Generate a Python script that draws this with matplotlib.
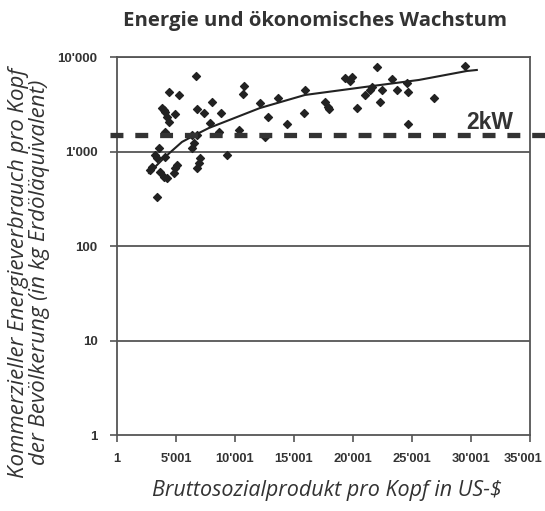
import numpy as np
import matplotlib
matplotlib.use("Agg")
import matplotlib.pyplot as plt
import matplotlib.transforms as mtransforms

# GDP per capita (US-$) and commercial energy use per capita (kg oil equivalent)
gdp = [6691, 4404, 5251, 10757, 10672, 8047, 12112, 3812, 3981, 4066,
       4913, 6776, 7369, 8809, 4235, 4404, 7877, 4066, 6353, 6776,
       8640, 10334, 6522, 6353, 3557, 9317, 3219, 3388, 4066, 7030,
       6946, 6776, 5082, 4913, 4828, 2795, 2965, 3642, 3981, 4235,
       3388,
       22022, 29476, 19312, 19905, 19735, 15924, 13637, 12790, 14399, 15839,
       17618, 17872, 17956, 20328, 21006, 21429, 21599, 22446, 22277, 23293,
       23716, 24563, 24648, 26850, 24648, 12536]
energy = [6295, 4262, 3963, 4932, 4059, 3342, 3261, 2884, 2749, 2618,
          2493, 2818, 2555, 2555, 2317, 2051, 2003, 1608, 1495, 1495,
          1608, 1689, 1230, 1089, 1089, 918, 918, 853, 874, 853,
          755, 669, 720, 669, 592, 637, 686, 607, 537, 525,
          330,
          7836, 8032, 5995, 6142, 5572, 4477, 3683, 2317, 1955, 2555,
          3342, 2957, 2818, 2884, 3963, 4477, 4817, 4477, 3342, 5853,
          4477, 5309, 4262, 3683, 1955, 1424]

# trend line
trend_x = [2711, 4066, 5506, 6607, 7792, 9741, 12112, 15924, 21006, 25580, 29646, 30493]
trend_y = [592, 874, 1262, 1495, 1774, 2208, 2884, 3963, 4817, 5714, 7112, 7289]

level_2kw = 1500

x_ticks = [1, 5001, 10001, 15001, 20001, 25001, 30001, 35001]
x_labels = ["1", "5'001", "10'001", "15'001", "20'001", "25'001", "30'001", "35'001"]
y_ticks = [1, 10, 100, 1000, 10000]
y_labels = ["1", "10", "100", "1'000", "10'000"]

ink = "#333333"
narrow = ["Liberation Sans Narrow", "Liberation Sans", "DejaVu Sans"]
sans = ["Open Sans", "DejaVu Sans"]

fig = plt.figure(figsize=(5.45, 5.11), dpi=100)
ax = fig.add_axes([117 / 545, 76 / 511, 413 / 545, 378 / 511])

ax.set_yscale("log")
ax.set_xlim(1, 35001)
ax.set_ylim(1, 10000)

for v in y_ticks[1:]:
    ax.axhline(v, color="#555555", lw=1.3, zorder=1)

ax.scatter(gdp, energy, marker="D", s=16, color="#222222", zorder=3)
ax.plot(trend_x, trend_y, color="#222222", lw=1.5, zorder=4)

# 2 kW line, runs past both edges of the plot
trans = mtransforms.blended_transform_factory(ax.transAxes, ax.transData)
ax.plot([-0.017, 1.04], [level_2kw, level_2kw], transform=trans, clip_on=False,
        color=ink, lw=3.8, dashes=(2.45, 2.25), solid_capstyle="butt", zorder=5)
ax.text(31600, 1730, "2kW", fontsize=16.5, fontweight="bold", family=narrow,
        color=ink, ha="center", va="baseline")

ax.set_xticks(x_ticks)
ax.set_xticklabels(x_labels, family=narrow, fontweight="bold", fontsize=9.3, color=ink)
ax.set_yticks(y_ticks)
ax.set_yticklabels(y_labels, family=narrow, fontweight="bold", fontsize=9.5, color=ink)
ax.yaxis.set_minor_locator(matplotlib.ticker.NullLocator())
ax.tick_params(axis="both", length=5, width=1.2, color="#555555")
ax.tick_params(axis="x", pad=8)
ax.tick_params(axis="y", pad=9)

# last x label sits a little left of its tick so it stays on the page
last = ax.get_xticklabels()[-1]
last.set_transform(last.get_transform() + mtransforms.ScaledTranslation(-7 / 100, 0, fig.dpi_scale_trans))

for s in ax.spines.values():
    s.set_color("#555555")
    s.set_linewidth(1.3)

ax.set_xlabel("Bruttosozialprodukt pro Kopf in US-$", family=sans, style="italic",
              fontsize=15.5, color=ink, va="center")
ax.xaxis.set_label_coords(0.508, -0.146)
ax.set_ylabel("Kommerzieller Energieverbrauch pro Kopf\nder Bevölkerung (in kg Erdöläquivalent)",
              family=sans, style="italic", fontsize=16, color=ink, va="center",
              linespacing=1.0)
ax.yaxis.set_label_coords(-0.213, 0.43)
fig.text(315 / 545, 1 - 21 / 511, "Energie und ökonomisches Wachstum", family=sans,
         fontweight="bold", fontsize=14.7, color=ink, ha="center", va="center")

fig.savefig("out.png", dpi=100)
